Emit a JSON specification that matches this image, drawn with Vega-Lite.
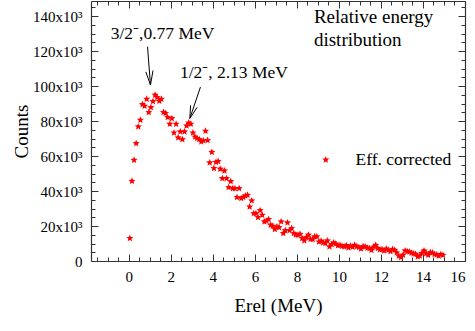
{
  "$schema": "https://vega.github.io/schema/vega-lite/v6.json",
  "width": 374,
  "height": 260,
  "autosize": {"type": "none"},
  "padding": {"left": 91, "top": 1, "right": 10, "bottom": 70},
  "background": "white",
  "config": {
    "view": {"stroke": null},
    "font": "Liberation Serif",
    "axis": {"grid": false, "domainColor": "#333", "tickColor": "#333", "domainWidth": 1.2, "labelColor": "#000", "titleColor": "#000", "labelFont": "Liberation Serif", "titleFont": "Liberation Serif", "titleFontWeight": "normal", "labelFontSize": 15, "titleFontSize": 19}
  },
  "datasets": {
    "spectrum": [
      {"e":0.05,"c":13000},{"e":0.15,"c":45700},{"e":0.25,"c":57700},{"e":0.35,"c":67200},{"e":0.45,"c":76800},
      {"e":0.55,"c":80600},{"e":0.65,"c":89500},{"e":0.75,"c":88600},{"e":0.85,"c":92600},{"e":0.95,"c":85000},
      {"e":1.05,"c":87800},{"e":1.15,"c":91200},{"e":1.25,"c":94900},{"e":1.35,"c":93500},{"e":1.45,"c":91400},
      {"e":1.55,"c":92600},{"e":1.65,"c":85000},{"e":1.75,"c":84400},{"e":1.85,"c":82100},{"e":1.95,"c":78300},
      {"e":2.05,"c":81500},{"e":2.15,"c":73300},{"e":2.25,"c":78300},{"e":2.35,"c":70500},{"e":2.45,"c":73900},
      {"e":2.55,"c":69500},{"e":2.65,"c":73900},{"e":2.75,"c":77300},{"e":2.85,"c":79000},{"e":2.95,"c":78300},
      {"e":3.05,"c":73300},{"e":3.15,"c":71000},{"e":3.25,"c":70100},{"e":3.35,"c":69500},{"e":3.45,"c":68200},
      {"e":3.55,"c":68800},{"e":3.65,"c":74300},{"e":3.75,"c":69000},{"e":3.85,"c":56200},{"e":3.95,"c":62200},
      {"e":4.05,"c":53000},{"e":4.15,"c":56500},{"e":4.25,"c":57000},{"e":4.35,"c":52600},{"e":4.45,"c":47200},
      {"e":4.55,"c":51600},{"e":4.65,"c":47200},{"e":4.75,"c":42100},{"e":4.85,"c":45500},{"e":4.95,"c":41500},
      {"e":5.05,"c":41500},{"e":5.15,"c":36400},{"e":5.25,"c":41500},{"e":5.35,"c":35800},{"e":5.45,"c":36500},
      {"e":5.55,"c":37300},{"e":5.65,"c":37700},{"e":5.75,"c":31000},{"e":5.85,"c":34500},{"e":5.95,"c":27200},
      {"e":6.05,"c":27200},{"e":6.15,"c":25000},{"e":6.25,"c":28900},{"e":6.35,"c":26300},{"e":6.45,"c":22500},
      {"e":6.55,"c":22900},{"e":6.65,"c":23800},{"e":6.75,"c":20600},{"e":6.85,"c":20000},{"e":6.95,"c":18100},
      {"e":7.05,"c":19600},{"e":7.15,"c":19200},{"e":7.25,"c":22500},{"e":7.35,"c":15800},{"e":7.45,"c":17500},
      {"e":7.55,"c":21900},{"e":7.65,"c":17500},{"e":7.75,"c":18700},{"e":7.85,"c":15800},{"e":7.95,"c":15000},
      {"e":8.05,"c":14900},{"e":8.15,"c":15400},{"e":8.25,"c":13000},{"e":8.35,"c":11600},{"e":8.45,"c":13500},
      {"e":8.55,"c":14900},{"e":8.65,"c":12500},{"e":8.75,"c":12400},{"e":8.85,"c":14000},{"e":8.95,"c":13900},
      {"e":9.05,"c":11000},{"e":9.15,"c":11500},{"e":9.25,"c":10500},{"e":9.35,"c":10100},{"e":9.45,"c":11600},
      {"e":9.55,"c":8200},{"e":9.65,"c":9500},{"e":9.75,"c":10500},{"e":9.85,"c":9800},{"e":9.95,"c":8800},
      {"e":10.05,"c":9100},{"e":10.15,"c":8500},{"e":10.25,"c":8200},{"e":10.35,"c":8900},{"e":10.45,"c":7600},
      {"e":10.55,"c":8600},{"e":10.65,"c":8000},{"e":10.75,"c":9100},{"e":10.85,"c":8300},{"e":10.95,"c":7800},
      {"e":11.05,"c":7000},{"e":11.15,"c":8400},{"e":11.25,"c":8200},{"e":11.35,"c":7500},{"e":11.45,"c":7200},
      {"e":11.55,"c":6200},{"e":11.65,"c":8100},{"e":11.75,"c":9100},{"e":11.85,"c":7200},{"e":11.95,"c":6500},
      {"e":12.05,"c":6700},{"e":12.15,"c":5800},{"e":12.25,"c":7000},{"e":12.35,"c":6300},{"e":12.45,"c":5500},
      {"e":12.55,"c":6700},{"e":12.65,"c":6200},{"e":12.75,"c":4800},{"e":12.85,"c":2900},{"e":12.95,"c":2100},
      {"e":13.05,"c":3500},{"e":13.15,"c":5900},{"e":13.25,"c":5500},{"e":13.35,"c":5300},{"e":13.45,"c":4600},
      {"e":13.55,"c":4200},{"e":13.65,"c":4000},{"e":13.75,"c":2500},{"e":13.85,"c":3000},{"e":13.95,"c":4500},
      {"e":14.05,"c":5900},{"e":14.15,"c":4300},{"e":14.25,"c":3400},{"e":14.35,"c":5000},{"e":14.45,"c":4700},
      {"e":14.55,"c":3800},{"e":14.65,"c":3600},{"e":14.75,"c":2900},{"e":14.85,"c":3800},{"e":14.95,"c":3400}
    ],
    "notes": [
      {"e": -0.86, "c": 129700, "label": "3/2⁻,0.77 MeV"},
      {"e": 2.43, "c": 107700, "label": "1/2⁻, 2.13 MeV"}
    ],
    "titleNote": [
      {"e": 8.81, "c": 139400, "label": "Relative energy"},
      {"e": 8.81, "c": 126300, "label": "distribution"}
    ],
    "arrows": [
      {"e": 0.89, "c": 122500, "e2": 1.03, "c2": 100600},
      {"e": 0.81, "c": 108100, "e2": 1.03, "c2": 100600},
      {"e": 1.152, "c": 108900, "e2": 1.03, "c2": 100600},
      {"e": 3.41, "c": 99400, "e2": 2.905, "c2": 81500},
      {"e": 3.25, "c": 87800, "e2": 2.905, "c2": 81500},
      {"e": 2.94, "c": 89000, "e2": 2.905, "c2": 81500}
    ]
  },
  "data": {"name": "spectrum"},
  "resolve": {"axis": {"x": "independent", "y": "independent"}},
  "layer": [
    {
      "mark": {"type": "point", "shape": "M0,-1L0.265,-0.364L0.951,-0.309L0.428,0.139L0.588,0.809L0,0.45L-0.588,0.809L-0.428,0.139L-0.951,-0.309L-0.265,-0.364Z", "filled": true, "size": 55, "opacity": 1},
      "encoding": {
        "x": {"field": "e", "type": "quantitative", "scale": {"domain": [-1.8, 16], "nice": false, "zero": false},
              "axis": {"orient": "bottom", "values": [0,2,4,6,8,10,12,14,16], "tickSize": -7, "labelPadding": 15, "title": "Erel (MeV)", "titlePadding": 12}},
        "y": {"field": "c", "type": "quantitative", "scale": {"domain": [0, 148600], "nice": false, "zero": true},
              "axis": {"orient": "left", "values": [0,20000,40000,60000,80000,100000,120000,140000], "tickSize": -7, "labelPadding": 16,
                       "labelExpr": "datum.value == 0 ? '0' : format(datum.value/1000, 'd') + 'x10³'", "title": "Counts", "titlePadding": 1}},
        "color": {"datum": "Eff. corrected", "type": "nominal", "scale": {"range": ["#ff0000"]},
                  "legend": {"orient": "none", "legendX": 226, "legendY": 150, "title": null, "padding": 0,
                             "symbolType": "M0,-1L0.265,-0.364L0.951,-0.309L0.428,0.139L0.588,0.809L0,0.45L-0.588,0.809L-0.428,0.139L-0.951,-0.309L-0.265,-0.364Z",
                             "symbolSize": 55, "symbolStrokeWidth": 0, "labelFont": "Liberation Serif", "labelFontSize": 17.5, "labelColor": "#000", "labelOffset": 21}}
      }
    },
    {
      "mark": {"type": "point", "opacity": 0},
      "encoding": {
        "x": {"field": "e", "type": "quantitative", "axis": {"orient": "bottom", "values": [-1.5,-1,-0.5,0.5,1,1.5,2.5,3,3.5,4.5,5,5.5,6.5,7,7.5,8.5,9,9.5,10.5,11,11.5,12.5,13,13.5,14.5,15,15.5], "tickSize": -4, "labels": false, "domain": false, "title": null}},
        "y": {"field": "c", "type": "quantitative", "axis": {"orient": "left", "values": [5000,10000,15000,25000,30000,35000,45000,50000,55000,65000,70000,75000,85000,90000,95000,105000,110000,115000,125000,130000,135000,145000], "tickSize": -4, "labels": false, "domain": false, "title": null}}
      }
    },
    {
      "mark": {"type": "point", "opacity": 0},
      "encoding": {
        "x": {"field": "e", "type": "quantitative", "axis": {"orient": "top", "values": [0,2,4,6,8,10,12,14,16], "tickSize": -7, "labels": false, "title": null}},
        "y": {"field": "c", "type": "quantitative", "axis": {"orient": "right", "values": [0,20000,40000,60000,80000,100000,120000,140000], "tickSize": -7, "labels": false, "title": null}}
      }
    },
    {
      "mark": {"type": "point", "opacity": 0},
      "encoding": {
        "x": {"field": "e", "type": "quantitative", "axis": {"orient": "top", "values": [-1.5,-1,-0.5,0.5,1,1.5,2.5,3,3.5,4.5,5,5.5,6.5,7,7.5,8.5,9,9.5,10.5,11,11.5,12.5,13,13.5,14.5,15,15.5], "tickSize": -4, "labels": false, "domain": false, "title": null}},
        "y": {"field": "c", "type": "quantitative", "axis": {"orient": "right", "values": [5000,10000,15000,25000,30000,35000,45000,50000,55000,65000,70000,75000,85000,90000,95000,105000,110000,115000,125000,130000,135000,145000], "tickSize": -4, "labels": false, "domain": false, "title": null}}
      }
    },
    {
      "data": {"name": "notes"},
      "mark": {"type": "text", "align": "left", "baseline": "middle", "font": "Liberation Serif", "fontSize": 17.5, "color": "#000"},
      "encoding": {
        "x": {"field": "e", "type": "quantitative", "axis": null},
        "y": {"field": "c", "type": "quantitative", "axis": null},
        "text": {"field": "label"}
      }
    },
    {
      "data": {"name": "titleNote"},
      "mark": {"type": "text", "align": "left", "baseline": "middle", "font": "Liberation Serif", "fontSize": 19, "color": "#000"},
      "encoding": {
        "x": {"field": "e", "type": "quantitative", "axis": null},
        "y": {"field": "c", "type": "quantitative", "axis": null},
        "text": {"field": "label"}
      }
    },
    {
      "data": {"name": "arrows"},
      "mark": {"type": "rule", "color": "#000", "strokeWidth": 1},
      "encoding": {
        "x": {"field": "e", "type": "quantitative", "axis": null},
        "y": {"field": "c", "type": "quantitative", "axis": null},
        "x2": {"field": "e2"},
        "y2": {"field": "c2"}
      }
    }
  ]
}
